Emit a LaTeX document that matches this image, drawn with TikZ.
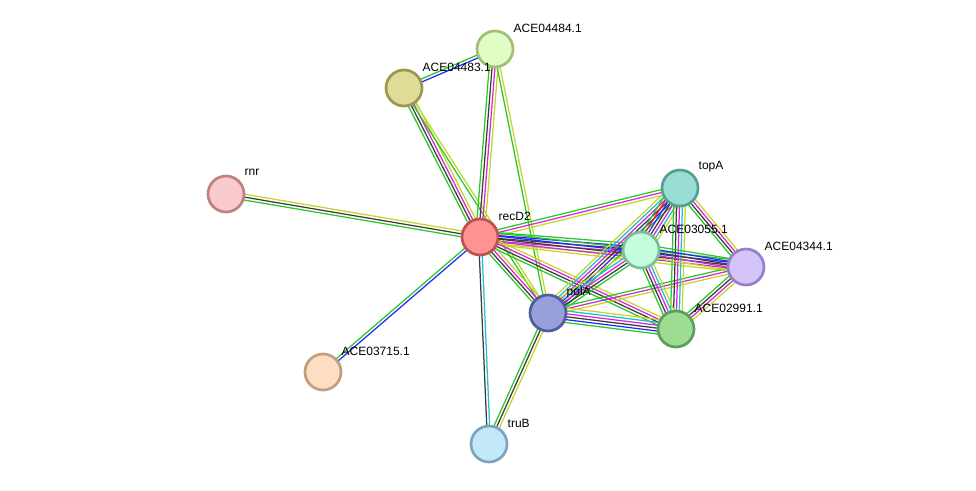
\documentclass[tikz,border=0pt]{standalone}
\usepackage{fontspec}
\setmainfont{Liberation Sans}
\usetikzlibrary{calc,backgrounds}
\definecolor{eg}{RGB}{40,200,40}
\definecolor{er}{RGB}{255,20,20}
\definecolor{eb}{RGB}{40,40,250}
\definecolor{ek}{RGB}{60,60,60}
\definecolor{em}{RGB}{215,40,215}
\definecolor{ec}{RGB}{40,185,220}
\definecolor{ey}{RGB}{195,215,40}
\definecolor{f04484}{RGB}{224,253,198}\definecolor{d04484}{RGB}{160,190,120}
\definecolor{f04483}{RGB}{224,220,152}\definecolor{d04483}{RGB}{158,150,80}
\definecolor{frnr}{RGB}{248,202,202}\definecolor{drnr}{RGB}{188,130,130}
\definecolor{frecD2}{RGB}{255,146,146}\definecolor{drecD2}{RGB}{190,82,82}
\definecolor{ftopA}{RGB}{152,222,212}\definecolor{dtopA}{RGB}{88,158,148}
\definecolor{f03055}{RGB}{198,252,222}\definecolor{d03055}{RGB}{120,190,150}
\definecolor{f04344}{RGB}{212,196,250}\definecolor{d04344}{RGB}{150,128,200}
\definecolor{fpolA}{RGB}{152,160,220}\definecolor{dpolA}{RGB}{82,90,160}
\definecolor{f02991}{RGB}{158,220,148}\definecolor{d02991}{RGB}{90,160,90}
\definecolor{f03715}{RGB}{253,222,192}\definecolor{d03715}{RGB}{190,160,128}
\definecolor{ftruB}{RGB}{194,232,250}\definecolor{dtruB}{RGB}{124,164,190}
\newcommand{\medge}[3]{%
  \foreach \ecol [count=\i] in {#3} {\xdef\myncount{\i}}%
  \foreach \ecol [count=\i] in {#3} {%
    \pgfmathsetmacro{\eoff}{(\i-(\myncount+1)/2)*2.9}%
    \draw[color=\ecol, edgeline] ($(#1.center)!\eoff pt!90:(#2.center)$) -- ($(#2.center)!\eoff pt!-90:(#1.center)$);
  }%
}
\begin{document}
\begin{tikzpicture}[x=1pt,y=-1pt,
  edgeline/.style={line width=1.25pt},
  prot/.style={circle, draw=d#1, fill=f#1, line width=2.7pt, minimum size=36pt, inner sep=0pt},
  lbl/.style={anchor=west, inner sep=0.5pt, font=\fontsize{12}{14}\selectfont, text=black}]
\useasboundingbox (0,0) rectangle (976,490);
% nodes
\node[prot=04484] (n04484) at (495,49) {};
\node[prot=04483] (n04483) at (404,88) {};
\node[prot=rnr] (rnr) at (226,194) {};
\node[prot=recD2] (recD2) at (480,237) {};
\node[prot=topA] (topA) at (680,188) {};
\node[prot=03055] (n03055) at (641,250) {};
\node[prot=04344] (n04344) at (746,267) {};
\node[prot=polA] (polA) at (548,313) {};
\node[prot=02991] (n02991) at (676,329) {};
\node[prot=03715] (n03715) at (323,372) {};
\node[prot=truB] (truB) at (489,444) {};
% labels
\node[lbl] (l04484) at ($(n04484)+(18,-21)$) {ACE04484.1};
\node[lbl] (l04483) at ($(n04483)+(18,-21)$) {ACE04483.1};
\node[lbl] (lrnr) at ($(rnr)+(18,-22)$) {rnr};
\node[lbl] (lrecD2) at ($(recD2)+(18,-21)$) {recD2};
\node[lbl] (ltopA) at ($(topA)+(18,-21)$) {topA};
\node[lbl] (l03055) at ($(n03055)+(18,-21)$) {ACE03055.1};
\node[lbl] (l04344) at ($(n04344)+(18,-21)$) {ACE04344.1};
\node[lbl] (lpolA) at ($(polA)+(18,-21)$) {polA};
\node[lbl] (l02991) at ($(n02991)+(18,-21)$) {ACE02991.1};
\node[lbl] (l03715) at ($(n03715)+(18,-21)$) {ACE03715.1};
\node[lbl] (ltruB) at ($(truB)+(18,-21)$) {truB};
% edges
\begin{pgfonlayer}{background}
\fill[white] (0,0) rectangle (976,490);
\medge{n04483}{n04484}{eb,eg}
\medge{n04483}{recD2}{eg,ek,em,ey}
\medge{n04483}{polA}{eg,ey}
\medge{n04484}{recD2}{eg,ek,em,ey}
\medge{n04484}{polA}{eg,ey}
\medge{rnr}{recD2}{eg,ek,ey}
\medge{recD2}{n03715}{eg,eb}
\medge{recD2}{truB}{ek,ec}
\medge{polA}{truB}{eg,ek,ey}
\medge{recD2}{topA}{ey,em,eg}
\medge{recD2}{n03055}{ey,em,ek,eb,eg}
\medge{recD2}{n04344}{ey,em,ek,eb,eg}
\medge{recD2}{polA}{eg,ek,em,ey}
\medge{recD2}{n02991}{eg,ek,em,ey}
\medge{polA}{topA}{eg,eb,ek,em,ec,ey}
\medge{polA}{n03055}{eg,ek,em,ec,ey}
\medge{polA}{n04344}{ey,em,eg}
\medge{polA}{n02991}{eg,eb,ek,em,ec,ey}
\medge{topA}{n03055}{eg,er,eb,ek,em,ec,ey}
\medge{topA}{n04344}{eg,ek,em,ey}
\medge{topA}{n02991}{eg,ek,em,ec,ey}
\medge{n03055}{n04344}{ey,em,ek,eb,eg}
\medge{n03055}{n02991}{eg,ek,em,ec,ey}
\medge{n04344}{n02991}{eg,ek,em,ey}
\end{pgfonlayer}
\end{tikzpicture}
\end{document}
